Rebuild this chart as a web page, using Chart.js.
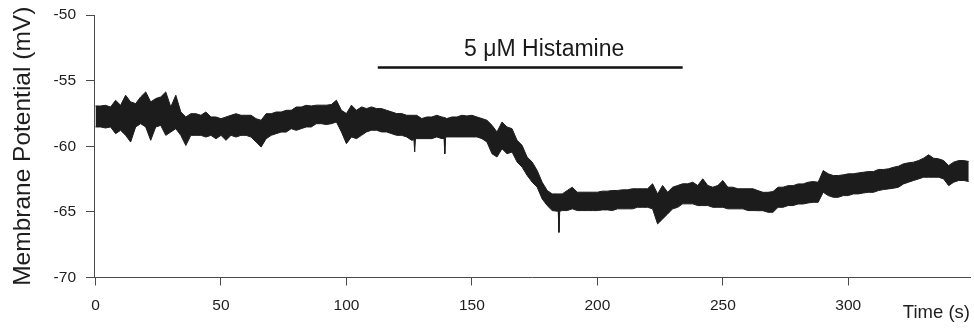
<!DOCTYPE html>
<html>
<head>
<meta charset="utf-8">
<script src="https://cdn.jsdelivr.net/npm/chart.js@4"></script>
<style>
  html, body { margin: 0; padding: 0; background: #ffffff; }
  #wrap { width: 974px; height: 329px; position: relative; }
</style>
</head>
<body>
<div id="wrap"><canvas id="c" width="974" height="329"></canvas></div>
<script>
// ---- data (upper / lower envelope of the noisy recording) ----
const timeS = [0,2,4,6,8,10,12,14,16,18,20,22,24,26,28,30,32,34,36,38,40,42,44,46,48,50,52,54,56,58,60,62,64,66,68,70,72,74,76,78,80,82,84,86,
  88,90,92,94,96,98,100,102,104,106,108,110,112,114,116,118,120,122,124,126,126.9,127.2,127.5,128,130,132,134,136,138,138.9,139.2,139.5,140,142,144,146,148,150,152,154,156,158,160,162,164,166,168,170,172,174,
  176,178,180,182,184,184.4,184.7,185,186,188,190,192,194,196,198,200,202,204,206,208,210,212,214,216,218,220,222,224,226,228,230,232,234,236,238,240,242,244,246,248,250,252,254,256,258,260,262,
  264,266,268,270,272,274,276,278,280,282,284,286,288,290,292,294,296,298,300,302,304,306,308,310,312,314,316,318,320,322,324,326,328,330,332,334,336,338,340,342,344,346,348];

const upperMV = [-56.93,-56.93,-56.88,-57.01,-56.50,-56.88,-56.11,-56.62,-56.75,-56.24,-55.86,-56.62,-56.37,-56.24,-55.86,-57.01,-56.11,-57.39,-57.77,-57.52,-57.52,-57.64,-57.39,-57.77,-57.77,-57.90,-57.77,-57.64,-57.52,-57.64,-57.64,-57.64,-57.90,-58.02,-57.52,-57.52,-57.39,-57.39,-57.26,-57.26,-57.01,-57.01,-56.88,-56.93,
  -56.87,-56.87,-56.87,-56.82,-56.49,-57.26,-57.51,-56.87,-57.26,-57.00,-57.13,-57.00,-57.13,-57.13,-57.26,-57.38,-57.51,-57.51,-57.64,-57.64,-57.64,-57.64,-57.64,-57.64,-57.89,-57.77,-57.77,-57.64,-57.77,-57.80,-57.85,-57.85,-57.89,-57.77,-57.77,-57.64,-57.69,-57.64,-57.77,-57.89,-58.02,-58.40,-58.91,-58.15,-58.53,-58.66,-59.55,-59.93,-60.82,-61.20,
  -61.84,-62.74,-63.37,-63.63,-63.63,-63.63,-63.63,-63.63,-63.63,-63.37,-63.12,-63.50,-63.50,-63.50,-63.50,-63.50,-63.42,-63.42,-63.37,-63.37,-63.32,-63.32,-63.24,-63.24,-63.24,-63.24,-62.86,-63.63,-62.99,-63.50,-63.12,-62.99,-62.86,-62.86,-62.74,-62.99,-62.48,-62.99,-63.12,-62.99,-62.61,-63.12,-63.12,-63.24,-63.24,-63.24,-63.24,
  -63.38,-63.51,-63.51,-63.45,-63.12,-63.12,-63.00,-63.00,-62.87,-62.87,-62.74,-62.69,-62.74,-61.85,-62.10,-62.23,-62.23,-62.18,-62.10,-62.10,-62.03,-61.98,-61.93,-61.93,-61.77,-61.77,-61.72,-61.60,-61.52,-61.34,-61.26,-61.21,-61.09,-60.91,-60.65,-60.91,-60.96,-61.09,-61.47,-61.21,-61.09,-61.09,-61.16];

const lowerMV = [-58.53,-58.53,-58.61,-58.53,-59.04,-58.79,-59.17,-59.68,-58.53,-58.28,-58.53,-59.55,-58.53,-58.41,-59.17,-58.92,-58.66,-59.17,-59.94,-59.17,-59.17,-59.17,-59.30,-59.17,-59.43,-59.17,-59.55,-59.17,-59.30,-59.17,-59.17,-59.30,-59.68,-60.06,-59.43,-59.17,-59.04,-58.92,-58.92,-58.66,-58.79,-58.66,-58.53,-58.53,
  -58.28,-58.28,-58.35,-58.28,-58.15,-58.91,-59.80,-59.29,-59.42,-59.17,-58.91,-58.78,-58.78,-58.91,-58.91,-59.04,-59.17,-59.17,-59.29,-59.55,-59.50,-60.44,-59.45,-59.42,-59.42,-59.42,-59.42,-59.29,-59.42,-59.40,-60.57,-59.35,-59.29,-59.29,-59.29,-59.29,-59.29,-59.29,-59.29,-59.42,-59.68,-60.57,-60.82,-60.19,-60.57,-60.44,-61.20,-61.59,-62.22,-62.73,
  -63.12,-64.01,-64.52,-64.90,-64.95,-64.95,-66.56,-64.95,-64.90,-64.90,-64.77,-64.90,-64.90,-64.90,-64.90,-64.90,-64.85,-64.85,-64.90,-64.77,-64.77,-64.77,-64.77,-64.65,-64.65,-64.65,-64.77,-65.92,-65.54,-65.16,-64.77,-64.65,-64.39,-64.39,-64.39,-64.52,-64.52,-64.52,-64.65,-64.65,-64.65,-64.77,-64.77,-64.77,-64.77,-64.90,-64.90,
  -64.91,-64.91,-65.03,-65.03,-64.65,-64.65,-64.52,-64.52,-64.40,-64.40,-64.32,-64.27,-64.27,-63.51,-63.76,-63.89,-63.89,-63.76,-63.76,-63.63,-63.63,-63.56,-63.51,-63.51,-63.38,-63.30,-63.25,-63.20,-63.12,-62.87,-62.74,-62.61,-62.49,-62.36,-62.36,-62.36,-62.36,-62.49,-63.00,-62.74,-62.61,-62.61,-62.69];

const yTicks = [-70, -65, -60, -55, -50];
const xTicks = [0, 50, 100, 150, 200, 250, 300];
const drugLabel = '5 \u03BCM Histamine';
const drugStart = 112.5;   // s
const drugEnd = 234;       // s
const drugBarMV = -54.0;   // bar level
const drugTextMV = -53.15; // label baseline
const drugTextT = 178.8;   // label centre

const traceColor = '#1c1c1c';
const axisColor = '#4a4a4a';
const fontFam = '"Liberation Sans", Arial, Helvetica, sans-serif';

const lowerPts = timeS.map((t, i) => ({ x: t, y: lowerMV[i] }));
const upperPts = timeS.map((t, i) => ({ x: t, y: upperMV[i] }));

const drugPlugin = {
  id: 'drugBar',
  afterDatasetsDraw(chart) {
    const { ctx, scales: { x, y } } = chart;
    ctx.save();
    ctx.strokeStyle = '#111';
    ctx.lineWidth = 2.6;
    const yb = y.getPixelForValue(drugBarMV);
    ctx.beginPath();
    ctx.moveTo(x.getPixelForValue(drugStart), yb);
    ctx.lineTo(x.getPixelForValue(drugEnd), yb);
    ctx.stroke();
    ctx.fillStyle = '#1a1a1a';
    ctx.font = '23px ' + fontFam;
    ctx.textAlign = 'center';
    ctx.textBaseline = 'alphabetic';
    ctx.fillText(drugLabel, x.getPixelForValue(drugTextT), y.getPixelForValue(drugTextMV));
    ctx.restore();
  }
};

new Chart(document.getElementById('c'), {
  type: 'line',
  data: {
    datasets: [
      { data: lowerPts, borderColor: traceColor, borderWidth: 1, pointRadius: 0, fill: false, tension: 0 },
      { data: upperPts, borderColor: traceColor, borderWidth: 1, pointRadius: 0, fill: '-1', backgroundColor: traceColor, tension: 0 }
    ]
  },
  options: {
    responsive: false,
    animation: false,
    devicePixelRatio: 1,
    layout: { padding: { left: 0, top: 15, right: 4, bottom: 0 } },
    plugins: { legend: { display: false }, tooltip: { enabled: false } },
    scales: {
      x: {
        type: 'linear',
        min: -0.6,
        max: 348.5,
        afterFit(s) { s.height = 51.5; s.paddingLeft = 0; s.paddingRight = 0; },
        afterBuildTicks(s) { s.ticks = xTicks.map(v => ({ value: v })); },
        grid: { drawOnChartArea: false, drawTicks: true, tickLength: 8, color: axisColor, lineWidth: 1 },
        border: { display: true, color: axisColor, width: 1 },
        ticks: { color: '#1e1e1e', font: { family: fontFam, size: 15.5 }, padding: 11, maxRotation: 0 },
        title: { display: true, text: 'Time (s)', align: 'end', color: '#1e1e1e', font: { family: fontFam, size: 18.5 }, padding: { top: 0, bottom: 5 } }
      },
      y: {
        type: 'linear',
        min: -70,
        max: -50,
        afterFit(s) { s.width = 94; s.paddingTop = 0; s.paddingBottom = 0; },
        afterBuildTicks(s) { s.ticks = yTicks.map(v => ({ value: v })); },
        grid: { drawOnChartArea: false, drawTicks: true, tickLength: 8, color: axisColor, lineWidth: 1 },
        border: { display: true, color: axisColor, width: 1 },
        ticks: { color: '#1e1e1e', font: { family: fontFam, size: 15.5 }, padding: 10 },
        title: { display: true, text: 'Membrane Potential (mV)', color: '#1e1e1e', font: { family: fontFam, size: 24.5 }, padding: { top: 9, bottom: 0 } }
      }
    }
  },
  plugins: [drugPlugin]
});
</script>
</body>
</html>
